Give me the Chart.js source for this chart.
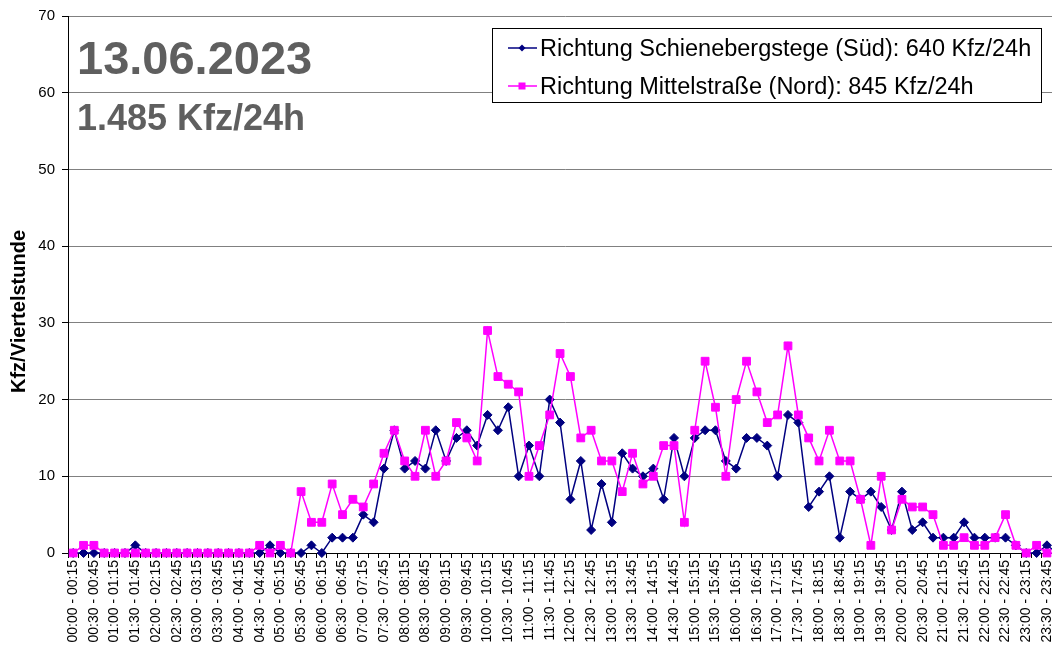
<!DOCTYPE html>
<html>
<head>
<meta charset="utf-8">
<script src="https://cdn.jsdelivr.net/npm/chart.js@4.4.0/dist/chart.umd.min.js"></script>
<style>
html, body { margin: 0; padding: 0; background: #fff; overflow: hidden; }
#myChart { display: block; position: absolute; left: 0; top: 0; }
</style>
</head>
<body>
<canvas id="myChart" width="1069" height="652"></canvas>
<script>
var timeLabels = [
    '00:00 - 00:15', '00:15 - 00:30', '00:30 - 00:45', '00:45 - 01:00',
    '01:00 - 01:15', '01:15 - 01:30', '01:30 - 01:45', '01:45 - 02:00',
    '02:00 - 02:15', '02:15 - 02:30', '02:30 - 02:45', '02:45 - 03:00',
    '03:00 - 03:15', '03:15 - 03:30', '03:30 - 03:45', '03:45 - 04:00',
    '04:00 - 04:15', '04:15 - 04:30', '04:30 - 04:45', '04:45 - 05:00',
    '05:00 - 05:15', '05:15 - 05:30', '05:30 - 05:45', '05:45 - 06:00',
    '06:00 - 06:15', '06:15 - 06:30', '06:30 - 06:45', '06:45 - 07:00',
    '07:00 - 07:15', '07:15 - 07:30', '07:30 - 07:45', '07:45 - 08:00',
    '08:00 - 08:15', '08:15 - 08:30', '08:30 - 08:45', '08:45 - 09:00',
    '09:00 - 09:15', '09:15 - 09:30', '09:30 - 09:45', '09:45 - 10:00',
    '10:00 - 10:15', '10:15 - 10:30', '10:30 - 10:45', '10:45 - 11:00',
    '11:00 - 11:15', '11:15 - 11:30', '11:30 - 11:45', '11:45 - 12:00',
    '12:00 - 12:15', '12:15 - 12:30', '12:30 - 12:45', '12:45 - 13:00',
    '13:00 - 13:15', '13:15 - 13:30', '13:30 - 13:45', '13:45 - 14:00',
    '14:00 - 14:15', '14:15 - 14:30', '14:30 - 14:45', '14:45 - 15:00',
    '15:00 - 15:15', '15:15 - 15:30', '15:30 - 15:45', '15:45 - 16:00',
    '16:00 - 16:15', '16:15 - 16:30', '16:30 - 16:45', '16:45 - 17:00',
    '17:00 - 17:15', '17:15 - 17:30', '17:30 - 17:45', '17:45 - 18:00',
    '18:00 - 18:15', '18:15 - 18:30', '18:30 - 18:45', '18:45 - 19:00',
    '19:00 - 19:15', '19:15 - 19:30', '19:30 - 19:45', '19:45 - 20:00',
    '20:00 - 20:15', '20:15 - 20:30', '20:30 - 20:45', '20:45 - 21:00',
    '21:00 - 21:15', '21:15 - 21:30', '21:30 - 21:45', '21:45 - 22:00',
    '22:00 - 22:15', '22:15 - 22:30', '22:30 - 22:45', '22:45 - 23:00',
    '23:00 - 23:15', '23:15 - 23:30', '23:30 - 23:45', '23:45 - 24:00'
];

// Richtung Schienebergstege (Süd)
var suedValues = [
    0, 0, 0, 0, 0, 0, 1, 0, 0, 0, 0, 0, 0, 0, 0, 0, 0, 0, 0, 1, 0, 0,
    0, 1, 0, 2, 2, 2, 5, 4,
    11, 16, 11, 12, 11, 16, 12, 15, 16, 14,
    18, 16, 19, 10, 14, 10, 20, 17, 7, 12,
    3, 9, 4, 13, 11, 10, 11, 7, 15, 10,
    15, 16, 16, 12, 11, 15, 15, 14, 10, 18,
    17, 6, 8, 10, 2, 8, 7, 8, 6, 3,
    8, 3, 4, 2, 2, 2, 4, 2, 2, 2,
    2, 1, 0, 0, 1, 0
];

// Richtung Mittelstraße (Nord)
var nordValues = [
    0, 1, 1, 0, 0, 0, 0, 0, 0, 0, 0, 0, 0, 0, 0, 0, 0, 0, 1, 0, 1, 0,
    8, 4, 4, 9, 5, 7, 6, 9,
    13, 16, 12, 10, 16, 10, 12, 17, 15, 12,
    29, 23, 22, 21, 10, 14, 18, 26, 23, 15,
    16, 12, 12, 8, 13, 9, 10, 14, 14, 4,
    16, 25, 19, 10, 20, 25, 21, 17, 18, 27,
    18, 15, 12, 16, 12, 12, 7, 1, 10, 3,
    7, 6, 6, 5, 1, 1, 2, 1, 1, 2,
    5, 1, 0, 1, 0, 0
];

var seriesNames = [
    'Richtung Schienebergstege (Süd): 640 Kfz/24h',
    'Richtung Mittelstraße (Nord): 845 Kfz/24h'
];
var yTickValues = [0, 10, 20, 30, 40, 50, 60, 70];
var dateTitle = '13.06.2023';
var totalTitle = '1.485 Kfz/24h';
var yTitle = 'Kfz/Viertelstunde';

var fontFam = '"Liberation Sans", Arial, sans-serif';

// Titel, Legende und Achsentitel direkt auf den Canvas
var extras = {
    id: 'extras',
    afterDraw: function(chart) {
        var ctx = chart.ctx;
        ctx.save();
        ctx.textAlign = 'left';
        ctx.textBaseline = 'alphabetic';
        ctx.fillStyle = '#5f5f5f';
        ctx.font = 'bold 47px ' + fontFam;
        ctx.fillText(dateTitle, 77, 74);
        ctx.font = 'bold 36px ' + fontFam;
        ctx.fillText(totalTitle, 77, 130);

        // legende
        ctx.fillStyle = '#fff';
        ctx.fillRect(492.5, 28.5, 549, 74);
        ctx.strokeStyle = '#000';
        ctx.lineWidth = 1;
        ctx.strokeRect(492.5, 28.5, 549, 74);

        var rows = [48, 86];
        var cores = ['#000080', '#ff00ff'];
        ctx.font = '23.5px ' + fontFam;
        for (var i = 0; i < 2; i++) {
            var y = rows[i];
            ctx.strokeStyle = cores[i];
            ctx.lineWidth = 1.5;
            ctx.beginPath();
            ctx.moveTo(508, y);
            ctx.lineTo(537, y);
            ctx.stroke();
            ctx.fillStyle = cores[i];
            if (i === 0) {
                ctx.beginPath();
                ctx.moveTo(522, y - 3.5);
                ctx.lineTo(525.5, y);
                ctx.lineTo(522, y + 3.5);
                ctx.lineTo(518.5, y);
                ctx.closePath();
                ctx.fill();
            } else {
                ctx.fillRect(518.5, y - 3.5, 7, 7);
            }
            ctx.fillStyle = '#000';
            ctx.fillText(seriesNames[i], 540, y + 8);
        }

        // y achse titel
        ctx.translate(19, 311.5);
        ctx.rotate(-Math.PI / 2);
        ctx.textAlign = 'center';
        ctx.textBaseline = 'middle';
        ctx.fillStyle = '#000';
        ctx.font = 'bold 20px ' + fontFam;
        ctx.fillText(yTitle, 0, 0);
        ctx.restore();
    }
};

var ctx = document.getElementById('myChart').getContext('2d');
var chart = new Chart(ctx, {
    type: 'line',
    data: {
        labels: timeLabels,
        datasets: [{
            label: seriesNames[0],
            data: suedValues,
            borderColor: '#000080',
            backgroundColor: '#000080',
            borderWidth: 1.5,
            pointStyle: 'rectRot',
            pointRadius: 4.5,
            pointBorderWidth: 1,
            pointHoverRadius: 4.5,
            clip: false,
            order: 1
        }, {
            label: seriesNames[1],
            data: nordValues,
            borderColor: '#ff00ff',
            backgroundColor: '#ff00ff',
            borderWidth: 1.5,
            pointStyle: 'rect',
            pointRadius: 5.5,
            pointBorderWidth: 1,
            pointHoverRadius: 5.5,
            clip: false,
            order: 0
        }]
    },
    options: {
        responsive: false,
        animation: false,
        devicePixelRatio: 1,
        layout: { padding: { top: 16, left: 0, right: 0, bottom: 0 } },
        plugins: {
            legend: { display: false },
            tooltip: { enabled: false }
        },
        scales: {
            x: {
                offset: true,
                grid: {
                    display: true,
                    drawOnChartArea: false,
                    drawTicks: true,
                    tickLength: 5,
                    tickColor: '#000',
                    offset: true
                },
                border: { color: '#000', width: 1 },
                ticks: {
                    autoSkip: false,
                    maxRotation: 90,
                    minRotation: 90,
                    padding: 2,
                    color: '#000',
                    font: { family: fontFam, size: 14 },
                    callback: function(value, index) {
                        return index % 2 === 0 ? this.getLabelForValue(value) : '';
                    }
                },
                afterFit: function(scale) {
                    scale.height = 99;
                    scale.paddingLeft = 0;
                    scale.paddingRight = 0;
                }
            },
            y: {
                min: 0,
                max: 70,
                afterBuildTicks: function(scale) {
                    scale.ticks = yTickValues.map(function(v) { return { value: v }; });
                },
                grid: { color: '#808080', tickColor: '#000', tickLength: 6 },
                border: { color: '#000', width: 1 },
                ticks: {
                    padding: 7,
                    color: '#000',
                    font: { family: fontFam, size: 15 }
                },
                afterFit: function(scale) { scale.width = 68; }
            }
        }
    },
    plugins: [extras]
});
</script>
</body>
</html>
